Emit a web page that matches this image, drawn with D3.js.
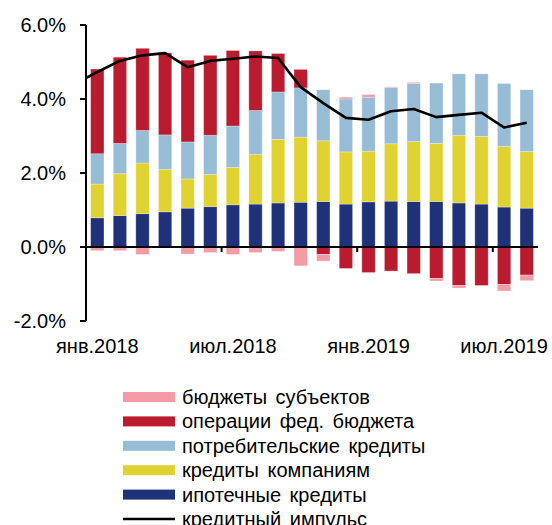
<!DOCTYPE html>
<html lang="ru">
<head>
<meta charset="UTF-8">
<title>Кредитный импульс</title>
<script src="https://cdnjs.cloudflare.com/ajax/libs/d3/7.8.5/d3.min.js"></script>
<style>
  body { margin: 0; background: #fff; }
  text { font-family: "Liberation Sans", Arial, sans-serif; fill: #000; }
</style>
</head>
<body>
<svg id="chart" width="552" height="525"></svg>
<script>
// months (янв.2018 - авг.2019)
const months = ["2018-01","2018-02","2018-03","2018-04","2018-05","2018-06","2018-07","2018-08","2018-09","2018-10",
                "2018-11","2018-12","2019-01","2019-02","2019-03","2019-04","2019-05","2019-06","2019-07","2019-08"];
const tickLabels = ["янв.2018", "", "", "", "", "", "июл.2018", "", "", "", "", "", "янв.2019", "", "", "", "", "", "июл.2019", ""];

// components, % (stacked)
const mortgage  = [0.79,0.85,0.90,0.95,1.05,1.09,1.14,1.16,1.19,1.21,1.23,1.16,1.22,1.24,1.23,1.23,1.19,1.16,1.08,1.05];
const corporate = [0.91,1.13,1.37,1.15,0.79,0.87,1.01,1.34,1.72,1.76,1.64,1.41,1.37,1.55,1.62,1.57,1.83,1.83,1.64,1.53];
const consumer  = [0.82,0.82,0.88,0.93,1.00,1.06,1.12,1.19,1.28,1.33,1.38,1.43,1.46,1.52,1.57,1.63,1.66,1.69,1.70,1.67];
const fedBudget = [2.29,2.33,2.22,2.22,2.21,2.16,2.04,1.61,1.04,0.50,-0.20,-0.58,-0.69,-0.65,-0.72,-0.85,-1.04,-1.04,-1.01,-0.76];
const regional  = [-0.10,-0.10,-0.20,0.00,-0.19,-0.15,-0.20,-0.15,-0.12,-0.51,-0.18,0.05,0.07,0.02,0.03,-0.07,-0.07,0.00,-0.18,-0.15];
// credit impulse line (first value = дек.2017, falls outside the plot)
const impulsePrev = 4.41;
const impulse   = [4.73,5.03,5.18,5.24,4.86,5.03,5.09,5.15,5.11,4.32,3.89,3.49,3.44,3.67,3.73,3.51,3.57,3.63,3.23,3.36];

const yTicks = [-2, 0, 2, 4, 6];

const series = [
  {key: "mortgage",  name: "ипотечные кредиты",        color: "#1f3179", values: mortgage},
  {key: "corporate", name: "кредиты компаниям",        color: "#e0d230", values: corporate},
  {key: "consumer",  name: "потребительские кредиты",  color: "#97bcd6", values: consumer},
  {key: "fedBudget", name: "операции фед. бюджета",    color: "#bb1b2f", values: fedBudget},
  {key: "regional",  name: "бюджеты субъектов",        color: "#f39ca5", values: regional}
];

const svg = d3.select("#chart");
const plotLeft = 86, plotRight = 538, plotTop = 25, plotBottom = 321;

const x = d3.scaleBand().domain(months).range([plotLeft, plotRight]).paddingInner(0.41).paddingOuter(0.205);
const y = d3.scaleLinear().domain([-2, 6]).range([plotBottom, plotTop]);

const table = months.map((m, i) => {
  const row = {month: m};
  series.forEach(s => row[s.key] = s.values[i]);
  return row;
});

const stacked = d3.stack()
  .keys(series.map(s => s.key))
  .offset(d3.stackOffsetDiverging)(table);

// bars
svg.append("g")
  .selectAll("g")
  .data(stacked)
  .join("g")
    .attr("fill", (d, i) => series[i].color)
  .selectAll("rect")
  .data(d => d)
  .join("rect")
    .attr("x", d => x(d.data.month))
    .attr("width", x.bandwidth())
    .attr("y", d => y(Math.max(d[0], d[1])))
    .attr("height", d => Math.abs(y(d[0]) - y(d[1])))
    .attr("stroke", "#fff")
    .attr("stroke-opacity", 0.35)
    .attr("stroke-width", 0.8);

// y axis
const yAxis = svg.append("g").attr("transform", `translate(${plotLeft},0)`);
yAxis.append("line").attr("y1", y(6)).attr("y2", y(-2)).attr("stroke", "#000").attr("stroke-width", 2);
yAxis.selectAll("line.tick").data(yTicks).join("line")
  .attr("class", "tick")
  .attr("x1", -6).attr("x2", 0)
  .attr("y1", d => y(d)).attr("y2", d => y(d))
  .attr("stroke", "#000").attr("stroke-width", 2);
yAxis.selectAll("text").data(yTicks).join("text")
  .attr("x", -20)
  .attr("y", d => y(d))
  .attr("dy", "0.36em")
  .attr("text-anchor", "end")
  .style("font-size", "20px")
  .text(d => d.toFixed(1) + "%");

// x axis on zero line
const gap = (x.step() - x.bandwidth()) / 2;
svg.append("line")
  .attr("x1", plotLeft).attr("x2", plotRight)
  .attr("y1", y(0)).attr("y2", y(0))
  .attr("stroke", "#000").attr("stroke-width", 2);
svg.append("g").selectAll("line")
  .data(months.filter((m, i) => i > 0 && i % 6 === 0))
  .join("line")
    .attr("x1", d => x(d) - gap).attr("x2", d => x(d) - gap)
    .attr("y1", y(0)).attr("y2", y(0) + 5)
    .attr("stroke", "#000").attr("stroke-width", 2);
svg.append("g").selectAll("text")
  .data(months.filter((m, i) => tickLabels[i]))
  .join("text")
    .attr("x", d => x(d) + x.bandwidth() / 2)
    .attr("y", 353)
    .attr("text-anchor", "middle")
    .style("font-size", "20px")
    .text(d => tickLabels[months.indexOf(d)]);

// credit impulse line
svg.append("clipPath").attr("id", "plotClip")
  .append("rect").attr("x", plotLeft).attr("y", 0).attr("width", plotRight - plotLeft).attr("height", 525);
const cx = m => x(m) + x.bandwidth() / 2;
const linePts = [[cx(months[0]) - x.step(), impulsePrev]].concat(months.map((m, i) => [cx(m), impulse[i]]));
svg.append("path")
  .attr("clip-path", "url(#plotClip)")
  .attr("d", d3.line().x(d => d[0]).y(d => y(d[1]))(linePts))
  .attr("fill", "none")
  .attr("stroke", "#000")
  .attr("stroke-width", 2.6)
  .attr("stroke-linejoin", "round");

// legend
const legendItems = series.slice().reverse().map(s => ({name: s.name, color: s.color, type: "bar"}))
  .concat([{name: "кредитный импульс", color: "#000", type: "line"}]);
const legend = svg.append("g").attr("transform", "translate(123,397)");
const rows = legend.selectAll("g").data(legendItems).join("g")
  .attr("transform", (d, i) => `translate(0,${i * 24.4})`);
rows.filter(d => d.type === "bar").append("rect")
  .attr("x", 0).attr("y", -5).attr("width", 52).attr("height", 10)
  .attr("fill", d => d.color);
rows.filter(d => d.type === "line").append("line")
  .attr("x1", 0).attr("x2", 52).attr("y1", 0).attr("y2", 0)
  .attr("stroke", "#000").attr("stroke-width", 2.5);
rows.append("text")
  .attr("x", 59)
  .attr("dy", "0.35em")
  .style("font-size", "20px")
  .style("word-spacing", "3px")
  .text(d => d.name);
</script>
</body>
</html>
